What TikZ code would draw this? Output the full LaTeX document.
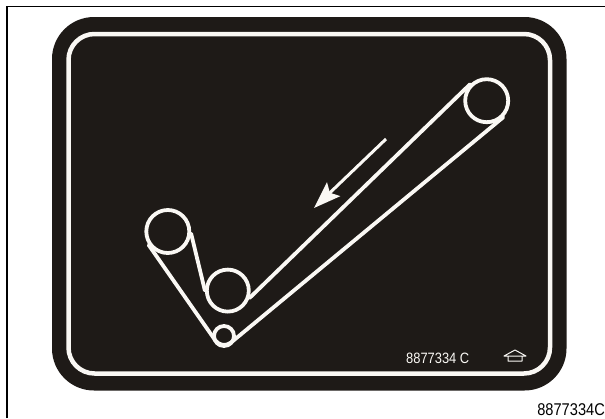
\documentclass[tikz,border=0pt]{standalone}
\usepackage{fontspec}
\setmainfont{Liberation Sans}
\usetikzlibrary{arrows.meta, positioning, calc}
\definecolor{PlateBlack}{RGB}{30, 26, 23}
\definecolor{LineWhite}{RGB}{250, 248, 244}
\begin{document}
\begin{tikzpicture}[
  x=1pt, y=-1pt,
  plate/.style={fill=PlateBlack, rounded corners=42pt},
  trim/.style={draw=LineWhite, line width=4.5pt, rounded corners=26pt},
  pulley/.style={circle, draw=LineWhite, line width=3.8pt, inner sep=0pt},
  belt/.style={draw=LineWhite, line width=3.8pt, line cap=round, line join=round},
  flow/.style={draw=LineWhite, line width=3pt, -{Stealth[length=27pt, width=19pt, inset=5pt]}},
  plain/.style={inner sep=0pt, xscale=0.86, transform shape}
]
  \useasboundingbox (0,0) rectangle (605,418);
  \draw[black, line width=1.8pt] (7,418) -- (7,6.5) -- (605,6.5);
  \fill[plate] (52,17) rectangle (566.5,390.5);
  \draw[trim] (68.5,34) rectangle (550,373.5);

  % rollers
  \node[pulley, minimum size=43pt] (upper) at (486.7,100.7) {};
  \node[pulley, minimum size=43pt] (left) at (167.8,231.5) {};
  \node[pulley, minimum size=42pt] (middle) at (227.8,290.6) {};
  \node[pulley, minimum size=20pt] (lower) at (224,336) {};
  \coordinate (apex) at (222,350);

  % belt runs
  \draw[belt] (upper.135) -- (middle.-19);
  \draw[belt, rounded corners=12pt] (left.215) -- (apex) -- (upper.-45);
  \draw[belt] (left.-5) -- (middle.180);

  \coordinate (flowstart) at (386,139);
  \coordinate (flowend) at (314,208);
  \draw[flow] (flowstart) -- (flowend);

  \node[plain, text=LineWhite, anchor=west, font=\fontsize{15}{16}\selectfont] (partcode) at (406,358) {8877334 C};
  \draw[draw=LineWhite, line width=1pt, line join=round] (504,356) -- (515,350) -- (526,356) -- cycle (508,356) -- (508,361) -- (522,361) -- (522,356);
  \node[plain, text=black, anchor=east, font=\fontsize{17}{18}\selectfont] (figcode) at (605,410) {8877334C};
\end{tikzpicture}
\end{document}
